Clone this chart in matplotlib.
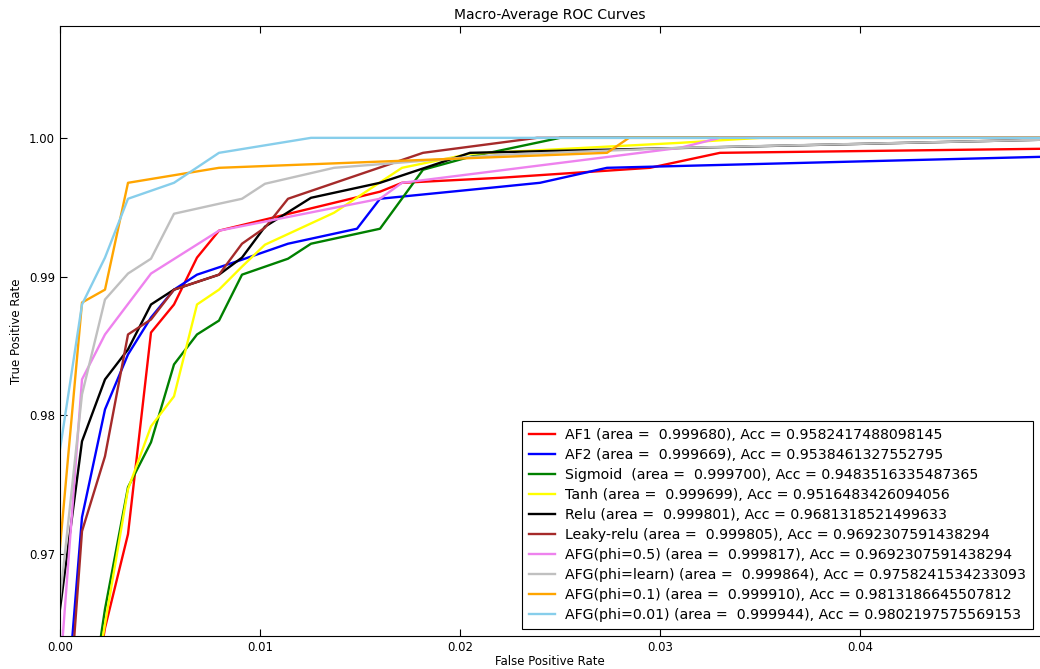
import matplotlib
matplotlib.use('Agg')
import matplotlib.pyplot as plt

# macro-average ROC points (fpr, tpr)
names = ['AF1', 'AF2', 'Sigmoid', 'Tanh', 'Relu', 'Leaky-relu',
         'AFG(phi=0.5)', 'AFG(phi=learn)', 'AFG(phi=0.1)', 'AFG(phi=0.01)']
areas = [0.999680, 0.999669, 0.999700, 0.999699, 0.999801, 0.999805,
         0.999817, 0.999864, 0.999910, 0.999944]
accs = ['0.9582417488098145', '0.9538461327552795', '0.9483516335487365',
        '0.9516483426094056', '0.9681318521499633', '0.9692307591438294',
        '0.9692307591438294', '0.9758241534233093', '0.9813186645507812',
        '0.9802197575569153']
colors = ['red', 'blue', 'green', 'yellow', 'black', 'brown',
          'violet', 'silver', 'orange', 'skyblue']

fpr_af1 = [0.0011, 0.00225, 0.0034, 0.00455, 0.0057, 0.00685, 0.00795, 0.016, 0.0171, 0.022, 0.0295, 0.033, 0.049]
tpr_af1 = [0.955, 0.96468, 0.97144, 0.98597, 0.98799, 0.99137, 0.99331, 0.99612, 0.99676, 0.99712, 0.99784, 0.99892, 0.99921]

fpr_af2 = [0.0, 0.0011, 0.00225, 0.0034, 0.00455, 0.0057, 0.00685, 0.0091, 0.0114, 0.01485, 0.016, 0.022, 0.024, 0.02735, 0.049]
tpr_af2 = [0.953, 0.97266, 0.98043, 0.98439, 0.98705, 0.98906, 0.99014, 0.99122, 0.99237, 0.99345, 0.99561, 0.99647, 0.99676, 0.99784, 0.99863]

fpr_sig = [0.0011, 0.00225, 0.0034, 0.00455, 0.0057, 0.00685, 0.00795, 0.0091, 0.0114, 0.01255, 0.016, 0.01815, 0.0205, 0.025, 0.049]
tpr_sig = [0.955, 0.96604, 0.97482, 0.97806, 0.98367, 0.98583, 0.98683, 0.99014, 0.99129, 0.99237, 0.99345, 0.99770, 0.99863, 1.0, 1.0]

fpr_tanh = [0.0011, 0.00225, 0.0034, 0.00455, 0.0057, 0.00685, 0.00795, 0.0091, 0.01025, 0.0137, 0.0171, 0.0205, 0.031, 0.035, 0.049]
tpr_tanh = [0.955, 0.96496, 0.97468, 0.97921, 0.98137, 0.98799, 0.98906, 0.99072, 0.9923, 0.9946, 0.99784, 0.99885, 0.99964, 1.0, 1.0]

fpr_relu = [0.0, 0.0011, 0.00225, 0.0034, 0.00455, 0.0057, 0.00795, 0.0091, 0.01025, 0.01255, 0.016, 0.0205, 0.049]
tpr_relu = [0.96604, 0.97813, 0.98259, 0.98475, 0.98799, 0.98906, 0.99014, 0.99137, 0.99360, 0.99568, 0.99676, 0.99892, 0.99986]

fpr_leaky = [0.0, 0.0011, 0.00225, 0.0034, 0.00455, 0.0057, 0.00795, 0.0091, 0.01025, 0.0114, 0.01815, 0.02385, 0.049]
tpr_leaky = [0.950, 0.97165, 0.97705, 0.98583, 0.98691, 0.98906, 0.99014, 0.99237, 0.99353, 0.99561, 0.99892, 1.0, 1.0]

fpr_afg05 = [0.0, 0.0011, 0.00225, 0.00455, 0.00795, 0.016, 0.0171, 0.031, 0.033, 0.049]
tpr_afg05 = [0.9614, 0.98259, 0.98583, 0.99022, 0.99331, 0.99561, 0.99676, 0.99928, 1.0, 1.0]

fpr_afgl = [0.0, 0.0011, 0.00225, 0.0034, 0.00455, 0.0057, 0.00795, 0.0091, 0.01025, 0.0137, 0.022, 0.031, 0.049]
tpr_afgl = [0.96676, 0.98151, 0.98835, 0.99022, 0.99129, 0.99453, 0.99525, 0.99561, 0.99669, 0.99784, 0.99878, 0.99928, 0.99986]

fpr_afg01 = [0.0, 0.0011, 0.00225, 0.0034, 0.00795, 0.02735, 0.02845, 0.049]
tpr_afg01 = [0.9705, 0.98813, 0.98906, 0.99676, 0.99784, 0.99892, 1.0, 1.0]

fpr_afg001 = [0.0, 0.0011, 0.00225, 0.0034, 0.0057, 0.00795, 0.01255, 0.049]
tpr_afg001 = [0.97755, 0.98799, 0.99137, 0.99561, 0.99676, 0.99892, 1.0, 1.0]

fprs = [fpr_af1, fpr_af2, fpr_sig, fpr_tanh, fpr_relu, fpr_leaky, fpr_afg05, fpr_afgl, fpr_afg01, fpr_afg001]
tprs = [tpr_af1, tpr_af2, tpr_sig, tpr_tanh, tpr_relu, tpr_leaky, tpr_afg05, tpr_afgl, tpr_afg01, tpr_afg001]

plt.rcParams['xtick.direction'] = 'in'
plt.rcParams['ytick.direction'] = 'in'
plt.rcParams['xtick.top'] = True

fig = plt.figure(figsize=(10.4, 6.69), dpi=100)
ax = fig.add_axes([60 / 1040, 1 - 636 / 669, 1 - 60 / 1040, (636 - 26) / 669])

for i in range(len(names)):
    sep = '  ' if names[i] == 'Sigmoid' else ' '
    label = f'{names[i]}{sep}(area =  {areas[i]:.6f}), Acc = {accs[i]}'
    ax.plot(fprs[i], tprs[i], color=colors[i], lw=1.7, label=label)

ax.set_xlim(0, 0.049)
ax.set_ylim(0.96410, 1.00806)
ax.set_xticks([0.0, 0.01, 0.02, 0.03, 0.04])
ax.set_yticks([0.97, 0.98, 0.99, 1.00])
ax.set_xticklabels(['0.00', '0.01', '0.02', '0.03', '0.04'])
ax.set_yticklabels(['0.97', '0.98', '0.99', '1.00'])
ax.tick_params(labelsize=8.5, length=5)
ax.spines['right'].set_visible(False)

ax.set_xlabel('False Positive Rate', fontsize=8.5, labelpad=1)
ax.set_ylabel('True Positive Rate', fontsize=8.5)
ax.set_title('Macro-Average ROC Curves', fontsize=10, pad=5)

leg = ax.legend(loc='lower right', fontsize=10.2, fancybox=False, framealpha=1,
                edgecolor='black', handlelength=1.8, handletextpad=0.7,
                borderpad=0.5, labelspacing=0.42, borderaxespad=0.5)
leg.get_frame().set_linewidth(0.8)

fig.savefig('out.png', dpi=100, facecolor='white')
